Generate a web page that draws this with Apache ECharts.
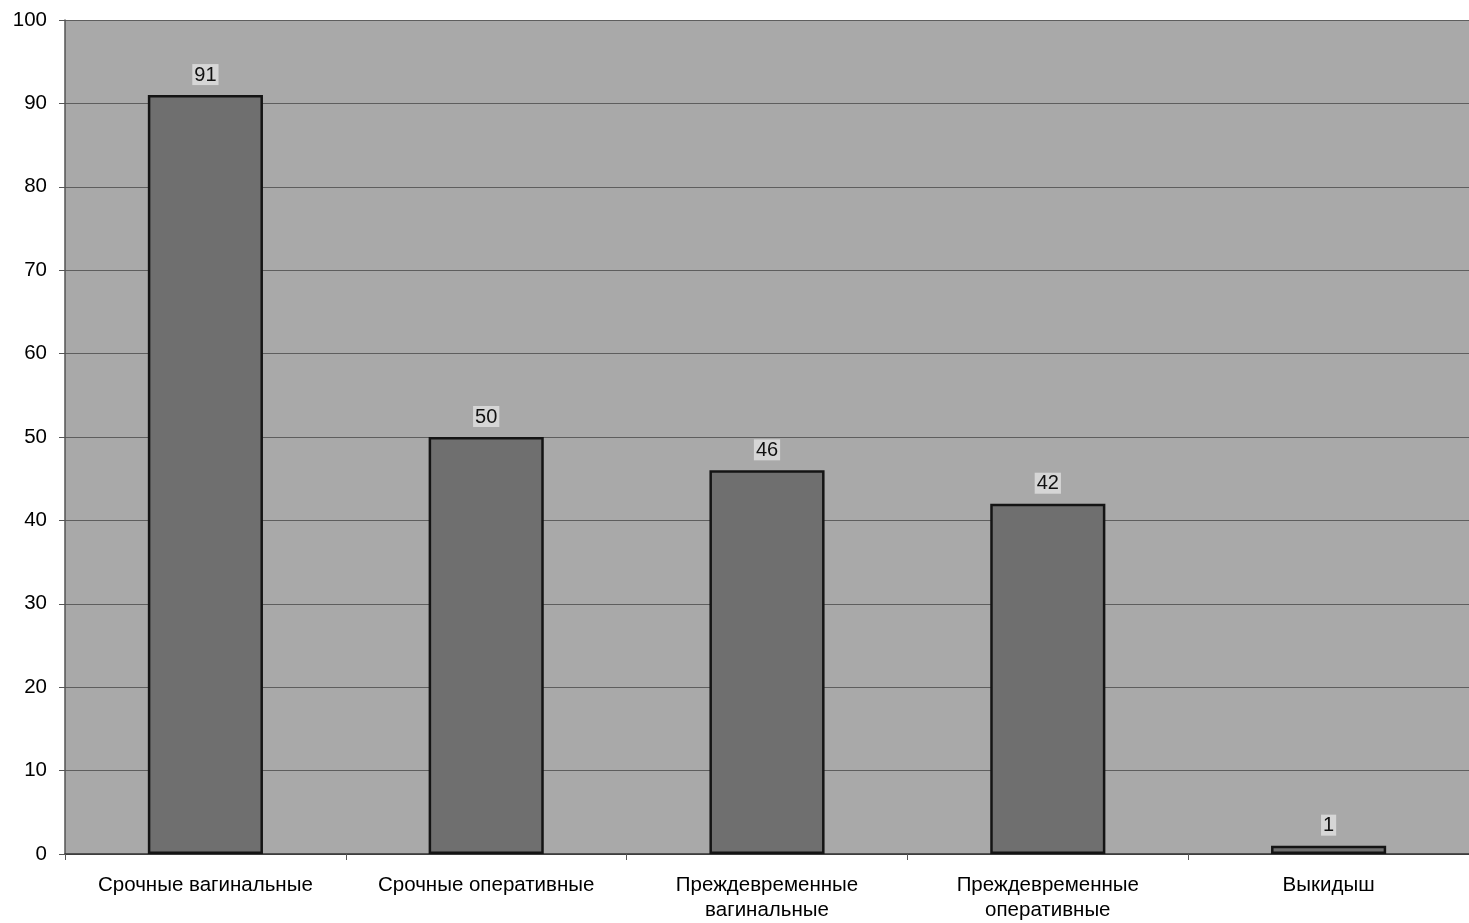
<!DOCTYPE html>
<html>
<head>
<meta charset="utf-8">
<script src="https://cdn.jsdelivr.net/npm/echarts@6/dist/echarts.min.js"></script>
<style>
  html, body { margin: 0; padding: 0; background: #ffffff; overflow: hidden; }
  #chart { width: 1469px; height: 923px; }
</style>
</head>
<body>
<div id="chart"></div>
<script>
// Birth outcomes by type
const categories = [
  'Срочные вагинальные',
  'Срочные оперативные',
  'Преждевременные\nвагинальные',
  'Преждевременные\nоперативные',
  'Выкидыш'
];
const counts = [91, 50, 46, 42, 1];
const yTicks = [0, 10, 20, 30, 40, 50, 60, 70, 80, 90, 100];

const chart = echarts.init(document.getElementById('chart'));
chart.setOption({
  animation: false,
  textStyle: { fontFamily: 'Liberation Sans, Arial, sans-serif' },
  grid: { left: 65, right: 0, top: 20, bottom: 65, show: true, backgroundColor: '#a9a9a9', borderWidth: 0 },
  xAxis: {
    type: 'category',
    data: categories,
    axisLine: { lineStyle: { color: '#333333', width: 1.5 } },
    axisTick: { show: true, length: 6, lineStyle: { color: '#555555' } },
    axisLabel: { color: '#000000', fontSize: 20.5, margin: 19, lineHeight: 25, interval: 0 }
  },
  yAxis: {
    type: 'value',
    min: yTicks[0],
    max: yTicks[yTicks.length - 1],
    interval: 10,
    axisLine: { show: true, lineStyle: { color: '#555555', width: 1.5 } },
    axisTick: { show: true, length: 6, lineStyle: { color: '#555555' } },
    axisLabel: { color: '#000000', fontSize: 20.5, margin: 18 },
    splitLine: { lineStyle: { color: '#5e5e5e', width: 1 } }
  },
  series: [{
    type: 'bar',
    data: counts,
    barWidth: '41%',
    itemStyle: { color: '#6f6f6f', borderColor: '#141414', borderWidth: 2.5 },
    label: {
      show: true,
      position: 'top',
      distance: 10,
      color: '#111111',
      fontSize: 20,
      backgroundColor: '#d6d6d6',
      padding: [1, 2, 0, 2]
    }
  }]
});
</script>
</body>
</html>
